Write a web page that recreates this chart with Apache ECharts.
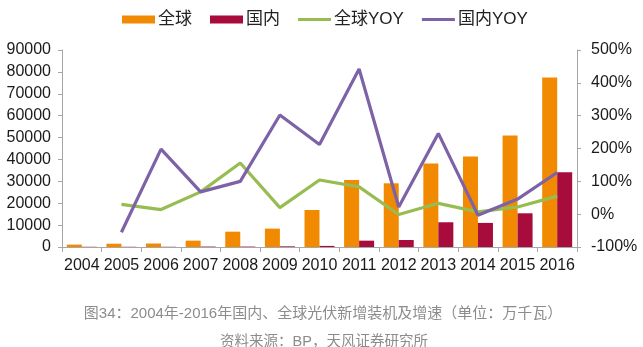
<!DOCTYPE html>
<html>
<head>
<meta charset="utf-8">
<script src="https://cdn.jsdelivr.net/npm/echarts@6/dist/echarts.min.js"></script>
<style>
  html, body { margin: 0; padding: 0; background: #ffffff; }
  #chart { width: 643px; height: 347px; }
</style>
</head>
<body>
<div id="chart"></div>
<script>
// 年份
const years = ['2004', '2005', '2006', '2007', '2008', '2009', '2010', '2011', '2012', '2013', '2014', '2015', '2016'];
// 新增装机（万千瓦）
const globalAdded = [1100, 1500, 1600, 2900, 7000, 8400, 16900, 30600, 29100, 38200, 41300, 50900, 77400];
const chinaAdded = [100, 100, 100, 200, 200, 300, 500, 2900, 3200, 11300, 11000, 15400, 34100];
// 同比增速（%）
const globalYoy = [null, 30, 14, 68, 156, 20, 104, 83, -1, 33, 7, 22, 55];
const chinaYoy = [null, -55, 198, 68, 100, 302, 212, 442, 22, 246, -3, 46, 127];
// 坐标轴刻度
const leftTicks = { min: 0, max: 90000, interval: 10000 };
const rightTicks = { min: -100, max: 500, interval: 100 };

const latin = '"Liberation Sans", Arial, sans-serif';
const mixed = '"Liberation Sans", "Noto Sans CJK SC", sans-serif';
const axisGrey = '#a6a6a6';
// 图例中折线的细线图标
const lineIcon = 'path://M0,0H34V3H0Z';

const chart = echarts.init(document.getElementById('chart'), null, { renderer: 'canvas' });

chart.setOption({
  animation: false,
  backgroundColor: '#ffffff',
  title: [
    {
      text: '图34：2004年-2016年国内、全球光伏新增装机及增速（单位：万千瓦）',
      left: 318, top: 301, textAlign: 'center',
      textStyle: { fontFamily: mixed, fontSize: 15, fontWeight: 'normal', color: '#8c8c8c' }
    },
    {
      text: '资料来源：BP，天风证券研究所',
      left: 319, top: 330, textAlign: 'center',
      textStyle: { fontFamily: mixed, fontSize: 14.5, fontWeight: 'normal', color: '#8c8c8c' }
    }
  ],
  legend: {
    left: 117, top: 6,
    itemWidth: 33, itemHeight: 8, itemGap: 18,
    symbolKeepAspect: true,
    textStyle: { fontFamily: mixed, fontSize: 17, color: '#222', padding: [0, 0, 0, -2] },
    data: [
      { name: '全球', icon: 'rect' },
      { name: '国内', icon: 'rect' },
      { name: '全球YOY', icon: lineIcon },
      { name: '国内YOY', icon: lineIcon }
    ]
  },
  grid: { left: 62, right: 66, top: 50, bottom: 100, containLabel: false },
  xAxis: {
    type: 'category',
    data: years,
    boundaryGap: true,
    axisLine: { lineStyle: { color: axisGrey, width: 1 } },
    axisTick: { show: true, alignWithLabel: false, length: 5, lineStyle: { color: axisGrey } },
    axisLabel: { interval: 0, margin: 11, fontFamily: latin, fontSize: 16, color: '#1a1a1a' }
  },
  yAxis: [
    {
      type: 'value',
      min: leftTicks.min, max: leftTicks.max, interval: leftTicks.interval,
      axisLine: { show: true, lineStyle: { color: axisGrey } },
      axisTick: { show: true, length: 4, lineStyle: { color: axisGrey } },
      splitLine: { show: false },
      axisLabel: { margin: 11, fontFamily: latin, fontSize: 16, color: '#1a1a1a', formatter: v => String(v) }
    },
    {
      type: 'value',
      position: 'right',
      min: rightTicks.min, max: rightTicks.max, interval: rightTicks.interval,
      axisLine: { show: true, lineStyle: { color: axisGrey } },
      axisTick: { show: true, length: 4, lineStyle: { color: axisGrey } },
      splitLine: { show: false },
      axisLabel: { margin: 14, fontFamily: latin, fontSize: 16, color: '#1a1a1a', formatter: v => v + '%' }
    }
  ],
  series: [
    {
      name: '全球', type: 'bar', yAxisIndex: 0, data: globalAdded,
      barWidth: 15, barGap: '0%',
      itemStyle: { color: '#f18a00' }, z: 2
    },
    {
      name: '国内', type: 'bar', yAxisIndex: 0, data: chinaAdded,
      barWidth: 15, barGap: '0%',
      itemStyle: { color: '#a80c3c' }, z: 2
    },
    {
      name: '全球YOY', type: 'line', yAxisIndex: 1, data: globalYoy,
      symbol: 'none', connectNulls: false,
      lineStyle: { color: '#97bd52', width: 3.2 },
      itemStyle: { color: '#97bd52' }, z: 3
    },
    {
      name: '国内YOY', type: 'line', yAxisIndex: 1, data: chinaYoy,
      symbol: 'none', connectNulls: false,
      lineStyle: { color: '#7d62a8', width: 3.2 },
      itemStyle: { color: '#7d62a8' }, z: 3
    }
  ]
});
</script>
</body>
</html>
